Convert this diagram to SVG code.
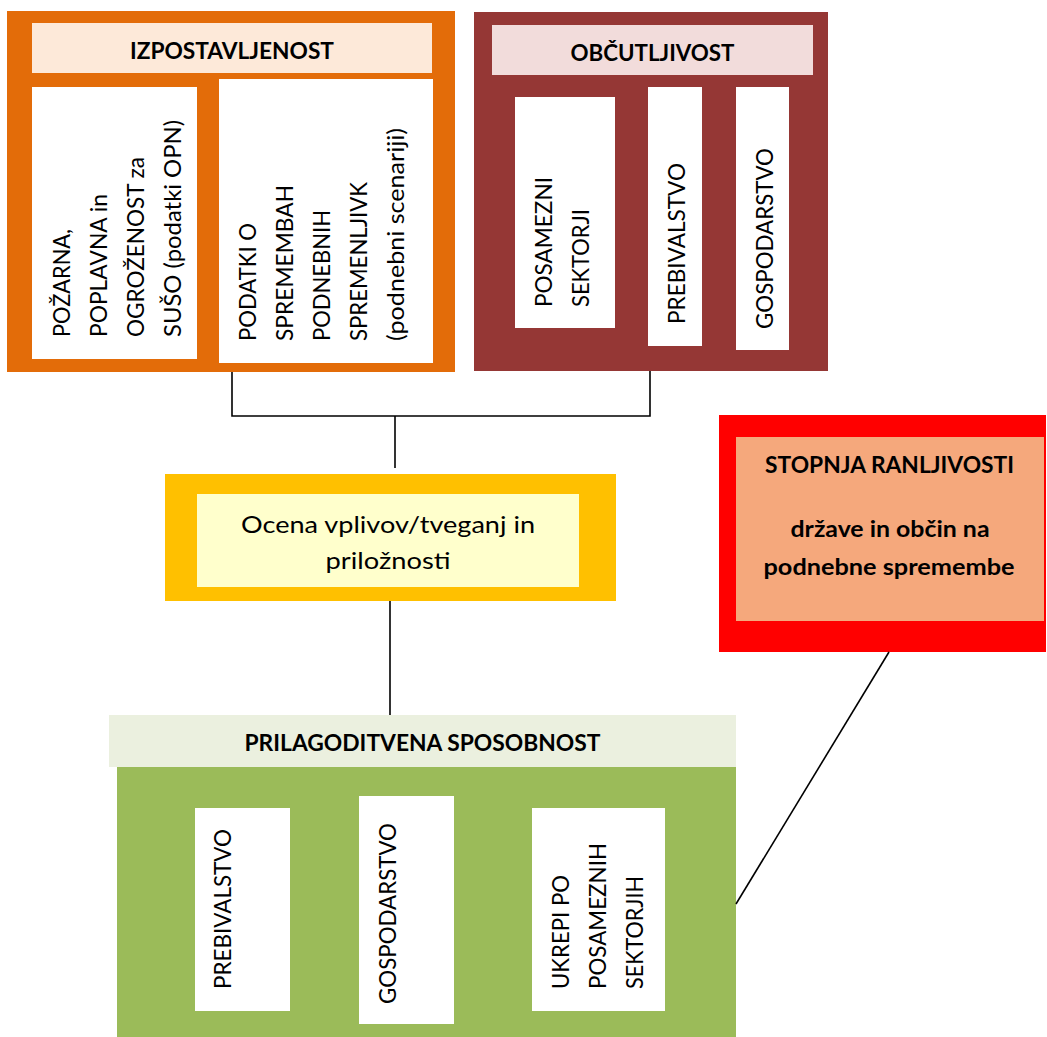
<svg xmlns="http://www.w3.org/2000/svg" width="1047" height="1037" viewBox="0 0 1047 1037">
<style>
  .t { font-family: Lato, "Open Sans", "Liberation Sans", sans-serif; font-size: 24px; fill: #000; }
  .b { font-family: Lato, "Open Sans", "Liberation Sans", sans-serif; font-size: 23.5px; font-weight: bold; fill: #000; }
  .c { text-anchor: middle; }
  .w { fill: #FFFFFF; }
  .conn { fill: none; stroke: #000; stroke-width: 1.6; }
</style>
<rect width="1047" height="1037" fill="#FFFFFF"/>

<g id="izpostavljenost">
  <rect x="7" y="11" width="448" height="361" fill="#E36C09"/>
  <rect x="32" y="23" width="400" height="50" fill="#FDE9D9"/>
  <text class="b c" x="232" y="59" textLength="204" lengthAdjust="spacingAndGlyphs">IZPOSTAVLJENOST</text>
  <rect class="w" x="32" y="87" width="165" height="272"/>
  <g class="t">
    <text transform="translate(70,337) rotate(-90)" textLength="108" lengthAdjust="spacingAndGlyphs">POŽARNA,</text>
    <text transform="translate(107,337) rotate(-90)" textLength="143" lengthAdjust="spacingAndGlyphs">POPLAVNA in</text>
    <text transform="translate(144,337) rotate(-90)" textLength="180" lengthAdjust="spacingAndGlyphs">OGROŽENOST za</text>
    <text transform="translate(181,337) rotate(-90)" textLength="217" lengthAdjust="spacingAndGlyphs">SUŠO (podatki OPN)</text>
  </g>
  <rect class="w" x="219" y="79" width="214" height="284"/>
  <g class="t">
    <text transform="translate(256,341) rotate(-90)" textLength="118" lengthAdjust="spacingAndGlyphs">PODATKI O</text>
    <text transform="translate(293,341) rotate(-90)" textLength="156" lengthAdjust="spacingAndGlyphs">SPREMEMBAH</text>
    <text transform="translate(330,341) rotate(-90)" textLength="131" lengthAdjust="spacingAndGlyphs">PODNEBNIH</text>
    <text transform="translate(367,341) rotate(-90)" textLength="159" lengthAdjust="spacingAndGlyphs">SPREMENLJIVK</text>
    <text transform="translate(404,341) rotate(-90)" textLength="213" lengthAdjust="spacingAndGlyphs">(podnebni scenariji)</text>
  </g>
</g>

<g id="obcutljivost">
  <rect x="474" y="12" width="354" height="359" fill="#953735"/>
  <rect x="492" y="25" width="321" height="50" fill="#F2DCDB"/>
  <text class="b c" x="652.5" y="61" textLength="164" lengthAdjust="spacingAndGlyphs">OBČUTLJIVOST</text>
  <rect class="w" x="515" y="97" width="100" height="231"/>
  <g class="t">
    <text transform="translate(552,307) rotate(-90)" textLength="130" lengthAdjust="spacingAndGlyphs">POSAMEZNI</text>
    <text transform="translate(589,307) rotate(-90)" textLength="98" lengthAdjust="spacingAndGlyphs">SEKTORJI</text>
  </g>
  <rect class="w" x="648" y="87" width="54" height="259"/>
  <text class="t" transform="translate(685,324) rotate(-90)" textLength="161" lengthAdjust="spacingAndGlyphs">PREBIVALSTVO</text>
  <rect class="w" x="736" y="87" width="53" height="263"/>
  <text class="t" transform="translate(773,329) rotate(-90)" textLength="181" lengthAdjust="spacingAndGlyphs">GOSPODARSTVO</text>
</g>

<g id="ocena">
  <rect x="165" y="474" width="451" height="127" fill="#FFC000"/>
  <rect x="197" y="494" width="382" height="93" fill="#FFFFCC"/>
  <text class="t c" x="388" y="533" textLength="294" lengthAdjust="spacingAndGlyphs">Ocena vplivov/tveganj in</text>
  <text class="t c" x="388" y="569" textLength="125" lengthAdjust="spacingAndGlyphs">priložnosti</text>
</g>

<g id="ranljivost">
  <rect x="719" y="415" width="327" height="237" fill="#FF0000"/>
  <rect x="736" y="437" width="308" height="184" fill="#F5A87C"/>
  <text class="b c" x="889.5" y="473" textLength="249" lengthAdjust="spacingAndGlyphs">STOPNJA RANLJIVOSTI</text>
  <text class="b c" x="890" y="537" font-size="24" textLength="199" lengthAdjust="spacingAndGlyphs">države in občin na</text>
  <text class="b c" x="889" y="575" font-size="24" textLength="251" lengthAdjust="spacingAndGlyphs">podnebne spremembe</text>
</g>

<g id="prilagoditvena">
  <rect x="109" y="715" width="627" height="52" fill="#EBF0DF"/>
  <text class="b c" x="422.5" y="751" textLength="356" lengthAdjust="spacingAndGlyphs">PRILAGODITVENA SPOSOBNOST</text>
  <rect x="117" y="767" width="619" height="270" fill="#9BBB59"/>
  <rect class="w" x="195" y="808" width="95" height="203"/>
  <text class="t" transform="translate(231,989) rotate(-90)" textLength="160" lengthAdjust="spacingAndGlyphs">PREBIVALSTVO</text>
  <rect class="w" x="359" y="796" width="95" height="228"/>
  <text class="t" transform="translate(396,1004) rotate(-90)" textLength="181" lengthAdjust="spacingAndGlyphs">GOSPODARSTVO</text>
  <rect class="w" x="532" y="808" width="133" height="203"/>
  <g class="t">
    <text transform="translate(569,989) rotate(-90)" textLength="114" lengthAdjust="spacingAndGlyphs">UKREPI PO</text>
    <text transform="translate(606,989) rotate(-90)" textLength="146" lengthAdjust="spacingAndGlyphs">POSAMEZNIH</text>
    <text transform="translate(643,989) rotate(-90)" textLength="113" lengthAdjust="spacingAndGlyphs">SEKTORJIH</text>
  </g>
</g>

<g id="connectors">
  <polyline class="conn" points="232,372 232,416 650,416 650,371"/>
  <line class="conn" x1="395" y1="416" x2="395" y2="468"/>
  <line class="conn" x1="390" y1="601" x2="390" y2="715"/>
  <line class="conn" x1="889" y1="652" x2="736" y2="904"/>
</g>
</svg>
